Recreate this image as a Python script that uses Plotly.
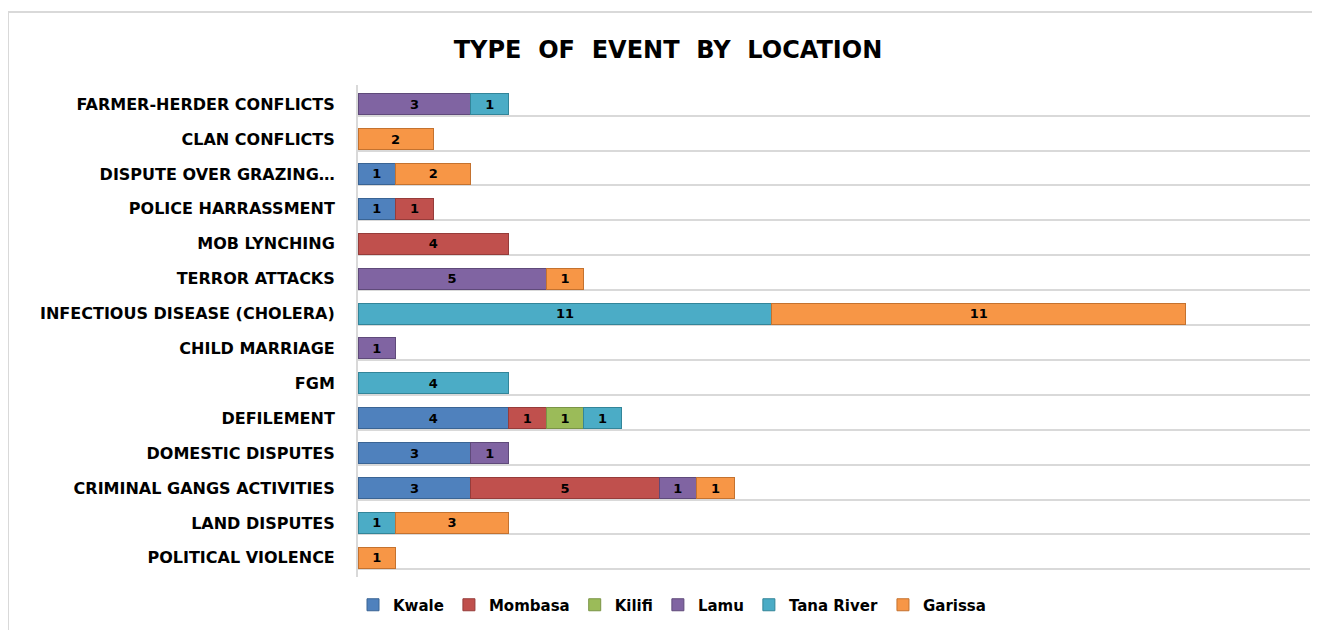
import plotly.graph_objects as go

categories = [
    "FARMER-HERDER CONFLICTS",
    "CLAN CONFLICTS",
    "DISPUTE OVER GRAZING…",
    "POLICE HARRASSMENT",
    "MOB LYNCHING",
    "TERROR ATTACKS",
    "INFECTIOUS DISEASE (CHOLERA)",
    "CHILD MARRIAGE",
    "FGM",
    "DEFILEMENT",
    "DOMESTIC DISPUTES",
    "CRIMINAL GANGS ACTIVITIES",
    "LAND DISPUTES",
    "POLITICAL VIOLENCE",
]

kwale     = [0, 0, 1, 1, 0, 0, 0, 0, 0, 4, 3, 3, 0, 0]
mombasa   = [0, 0, 0, 1, 4, 0, 0, 0, 0, 1, 0, 5, 0, 0]
kilifi    = [0, 0, 0, 0, 0, 0, 0, 0, 0, 1, 0, 0, 0, 0]
lamu      = [3, 0, 0, 0, 0, 5, 0, 1, 0, 0, 1, 1, 0, 0]
tana      = [1, 0, 0, 0, 0, 0, 11, 0, 4, 1, 0, 0, 1, 0]
garissa   = [0, 2, 2, 0, 0, 1, 11, 0, 0, 0, 0, 1, 3, 1]

series_names = ["Kwale", "Mombasa", "Kilifi", "Lamu", "Tana River", "Garissa"]
series_vals = [kwale, mombasa, kilifi, lamu, tana, garissa]
colors = ["#4F81BD", "#C0504D", "#9BBB59", "#8064A2", "#4BACC6", "#F79646"]
edge = ["#3A6494", "#963C3A", "#7A9446", "#5F4A7A", "#338599", "#C4722F"]

ypos = list(range(len(categories)))

# page has an 8px body margin; figure coords = page coords - 8
L, R_EDGE, TOP, BOT = 350, 1302, 77, 569
W, H = 1320, 630
PH = BOT - TOP
PW = R_EDGE - L

fig = go.Figure()
for name, vals, c, e in zip(series_names, series_vals, colors, edge):
    xs = [v if v else None for v in vals]
    fig.add_trace(go.Bar(
        y=ypos, x=xs, name=name, orientation="h",
        marker=dict(color=c, line=dict(color=e, width=1)),
        width=0.6,
        text=[str(v) if v else "" for v in vals],
        textposition="inside", insidetextanchor="middle", textangle=0,
        textfont=dict(family="DejaVu Sans", size=13, color="#000000", weight="bold"),
        constraintext="none",
        hoverinfo="x+name",
    ))

fig.update_layout(
    barmode="stack",
    width=W, height=H,
    paper_bgcolor="white", plot_bgcolor="white",
    margin=dict(l=L, r=W - R_EDGE, t=TOP, b=H - BOT, autoexpand=False),
    title=dict(
        text="<b>TYPE  OF  EVENT  BY  LOCATION</b>",
        x=0.5, xref="container", xanchor="center",
        y=1 - 42 / H, yref="container", yanchor="middle",
        font=dict(family="DejaVu Sans", size=24, color="#000000"),
    ),
    xaxis=dict(range=[0, 25.3], showgrid=False, zeroline=False,
               showticklabels=False, showline=False, fixedrange=True,
               automargin=False),
    yaxis=dict(
        tickmode="array", tickvals=ypos, ticktext=categories,
        range=[13.55, -0.55], showgrid=False, zeroline=False,
        showline=True, linecolor="#d9d9d9", linewidth=2,
        ticks="", ticklabelstandoff=18, automargin=False,
        tickfont=dict(family="DejaVu Sans", size=16, color="#000000", weight="bold"),
        minor=dict(tickmode="array", tickvals=[i + 0.33 for i in ypos] + [-0.65],
                   showgrid=True, gridcolor="#d9d9d9", gridwidth=2, ticks=""),
    ),
    legend=dict(
        orientation="h", x=(664 - L) / PW, xanchor="center",
        y=(BOT - 597) / PH, yanchor="middle",
        font=dict(family="DejaVu Sans", size=15, color="#000000", weight="bold"),
        traceorder="normal", itemwidth=30,
    ),
    shapes=[dict(type="rect", xref="paper", yref="paper",
                 x0=(0 - L) / PW, x1=(1330 - L) / PW,
                 y0=-0.2, y1=(BOT - 4) / PH,
                 line=dict(color="#d9d9d9", width=2), fillcolor="rgba(0,0,0,0)",
                 layer="below")],
)

fig.write_html("out.html")
